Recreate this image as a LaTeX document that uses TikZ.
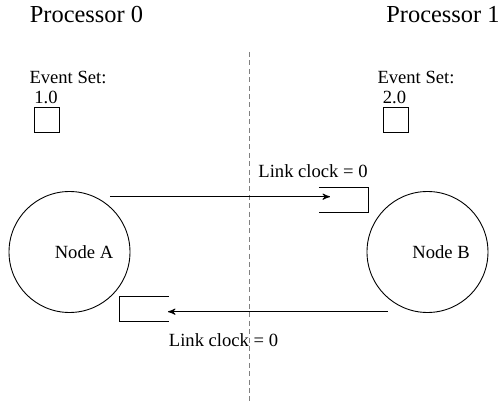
\documentclass[tikz,border=0pt]{standalone}
\usepackage{fontspec}
\setmainfont{Liberation Serif}
\usetikzlibrary{arrows,positioning}

\tikzset{
  proc/.style={font=\fontsize{12.2}{14}\selectfont, inner sep=0pt},
  small/.style={font=\fontsize{9.3}{11}\selectfont, inner sep=0pt},
  simnode/.style={draw, circle, minimum size=60.5pt, inner sep=0pt},
  evbox/.style={draw, minimum size=12.5pt, inner sep=0pt},
  msg/.style={->, >=stealth', line width=0.45pt},
}

\begin{document}
\begin{tikzpicture}[x=0.5pt,y=-0.5pt,line width=0.45pt]
      \useasboundingbox (0,0) rectangle (500,407);

      % Processor split
      \draw[gray, line width=0.8pt, dash pattern=on 2.5pt off 1.7pt] (249.5,52) -- (249.5,404);
      \node[proc] (proc0) at (86.5,15) {Processor 0};
      \node[proc] (proc1) at (443,15) {Processor 1};

      % Event sets
      \node[small] (evA) at (68,77) {Event Set:};
      \node[small] (tA) at (46,97) {1.0};
      \node[evbox] (boxA) at (47.2,120) {};
      \node[small] (evB) at (416,77) {Event Set:};
      \node[small] (tB) at (394.5,97) {2.0};
      \node[evbox] (boxB) at (395.8,120) {};

      % Nodes
      \node[simnode] (nodeA) at (69.5,252) {};
      \node[small] (nameA) at (84,252) {Node A};
      \node[simnode] (nodeB) at (427.5,252) {};
      \node[small] (nameB) at (441,252) {Node B};

      % Link buffers
      \draw (319,187) -- (368,187) -- (368,212) -- (319,212);
      \draw (169,296) -- (119.3,296) -- (119.3,321) -- (169,321);
      \coordinate (outA) at (110,196.7);
      \coordinate (inB) at (330,196.7);
      \coordinate (outB) at (388,311.7);
      \coordinate (inA) at (168,311.7);

      % Messages
      \draw[msg] (outA) -- (inB);
      \draw[msg] (outB) -- (inA);
      \node[small] (linkAB) at (313,171) {Link clock = 0};
      \node[small] (linkBA) at (223.5,340) {Link clock = 0};
    \end{tikzpicture}
\end{document}
